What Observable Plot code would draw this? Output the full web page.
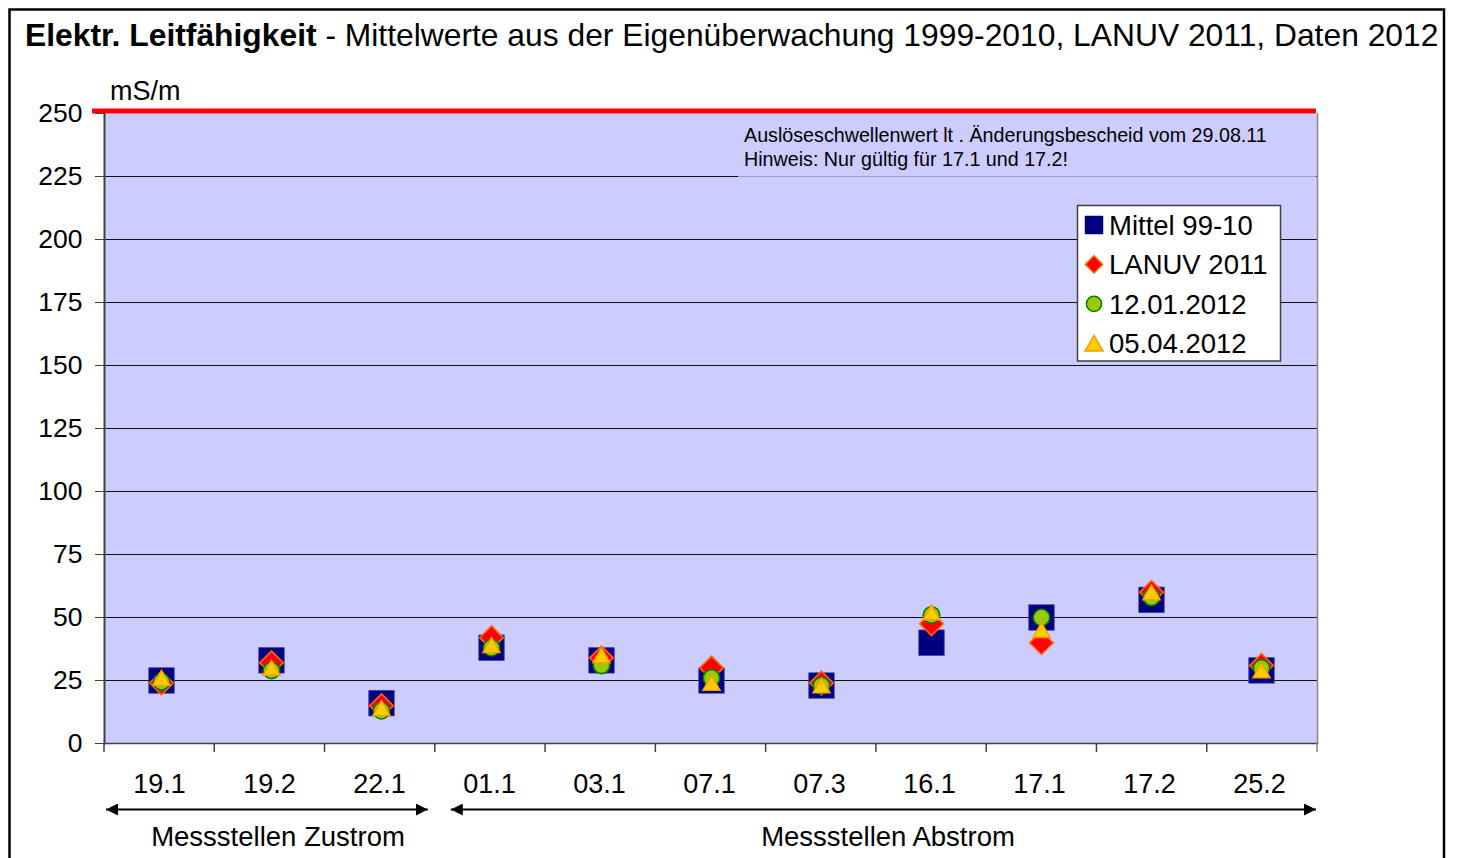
<!DOCTYPE html>
<html><head><meta charset="utf-8">
<script src="https://cdn.jsdelivr.net/npm/d3@7"></script>
<script src="https://cdn.jsdelivr.net/npm/@observablehq/plot@0.6"></script>
<style>
body{margin:0;background:#fff;font-family:"Liberation Sans",Arial,sans-serif}
svg{display:block}
</style>
</head><body><div id="chart"></div>
<script>
// ---- data ----
const stations = ["19.1","19.2","22.1","01.1","03.1","07.1","07.3","16.1","17.1","17.2","25.2"];
const mittel   = [25, 33, 16, 38, 33, 25, 23, 40, 50, 57, 29];
const lanuv    = [24, 32, 15, 42, 34, 30, 24, 47.5, 40, 60, 31];
const jan2012  = [24.5, 29, 13, 38, 31, 26, 23, 51, 50, 58, 30];
const apr2012  = [26, 30, 14, 39, 35, 24, 23, 52, 45, 60, 29];
const yTicks   = [0, 25, 50, 75, 100, 125, 150, 175, 200, 225, 250];
const threshold = 250;
const seriesNames = ["Mittel 99-10", "LANUV 2011", "12.01.2012", "05.04.2012"];
const groups = [
  {label: "Messstellen Zustrom", from: "19.1", to: "22.1"},
  {label: "Messstellen Abstrom", from: "01.1", to: "25.2"}
];
const titleBold = "Elektr. Leitfähigkeit";
const titleRest = " - Mittelwerte aus der Eigenüberwachung 1999-2010, LANUV 2011, Daten 2012";
const unitLabel = "mS/m";
const noteLines = ["Auslöseschwellenwert lt . Änderungsbescheid vom 29.08.11", "Hinweis: Nur gültig für 17.1 und 17.2!"];

const rows = stations.map((s, i) => ({station: s, mittel: mittel[i], lanuv: lanuv[i], jan: jan2012[i], apr: apr2012[i]}));

const FONT = "Liberation Sans, Arial, sans-serif";
const W = 1458, H = 858;
const mL = 104, mR = 141, mT = 113, mB = 115;

const plot = Plot.plot({
  width: W, height: H,
  marginLeft: mL, marginRight: mR, marginTop: mT, marginBottom: mB,
  style: {fontFamily: FONT, background: "white", overflow: "visible", color: "black"},
  x: {type: "band", domain: stations, padding: 0},
  y: {domain: [0, 250]},
  marks: [
    Plot.frame({fill: "#CCCCFF", stroke: null}),
    Plot.ruleY(yTicks.filter(d => d > 0 && d < 250), {stroke: "#111", strokeWidth: 1}),
    Plot.frame({anchor: "right", stroke: "#888", strokeWidth: 1.5}),
    Plot.frame({anchor: "bottom", stroke: "#404040", strokeWidth: 1.5}),
    Plot.frame({anchor: "left", stroke: "#404040", strokeWidth: 2}),
    Plot.ruleY([threshold], {stroke: "#FF0000", strokeWidth: 5, dy: -2.5, insetLeft: -12, insetRight: 1}),
    Plot.axisY(yTicks, {tickSize: 9, tickPadding: 13, fontSize: 26.5, stroke: "#404040", fill: "black", label: null}),
    Plot.axisX({tickSize: 0, tickPadding: 30, fontSize: 27, fill: "black", label: null, dx: -2}),
    Plot.dot(rows, {x: "station", y: "mittel", symbol: "square", r: 14.4, fill: "#000080", stroke: "#4444AA", strokeWidth: 0.8}),
    Plot.dot(rows, {x: "station", y: "lanuv", symbol: "diamond2", r: 10.6, fill: "#FF0000", stroke: "#FF6600", strokeWidth: 1.6}),
    Plot.dot(rows, {x: "station", y: "jan", symbol: "circle", r: 8.2, fill: "#99CC00", stroke: "#008000", strokeWidth: 1.6}),
    Plot.dot(rows, {x: "station", y: "apr", symbol: "triangle", r: 6.4, dy: 2.4, fill: "#FFCC00", stroke: "#FF9900", strokeWidth: 1.4})
  ]
});

document.getElementById("chart").appendChild(plot);

const svg = d3.select(plot);
const sx = plot.scale("x");
const sy = plot.scale("y");
const x0 = sx.range[0], x1 = sx.range[1];
const step = (x1 - x0) / stations.length;
const bandStart = s => x0 + stations.indexOf(s) * step;
const yBottom = sy.range[0], yTop = sy.range[1];

const ann = svg.append("g").attr("text-anchor", "start");

// outer border
ann.append("rect").attr("x", 9.5).attr("y", 9.5).attr("width", 1434.5).attr("height", 900)
  .attr("fill", "none").attr("stroke", "black").attr("stroke-width", 2.5);

// title
const t = ann.append("text").attr("x", 25).attr("y", 46).attr("text-anchor", "start").attr("font-family", FONT).attr("font-size", 31.8).attr("fill", "black");
t.append("tspan").attr("font-weight", "bold").text(titleBold);
t.append("tspan").text(titleRest);

// unit label
ann.append("text").attr("x", 110).attr("y", 100).attr("text-anchor", "start").attr("font-family", FONT).attr("font-size", 27).text(unitLabel);

// x ticks at band boundaries
for (let i = 0; i <= stations.length; i++) {
  const xx = x0 + i * step;
  ann.append("line").attr("x1", xx).attr("x2", xx).attr("y1", yBottom).attr("y2", yBottom + 9)
    .attr("stroke", i === stations.length ? "#888" : "#404040").attr("stroke-width", 1.5);
}

// note box
const noteG = ann.append("g");
noteG.append("rect").attr("x", 738).attr("y", yTop + 1).attr("width", x1 - 738 - 1).attr("height", sy.apply(225) - yTop + 1.5)
  .attr("fill", "#CCCCFF").attr("fill-opacity", 0.75);
noteLines.forEach((l, i) => {
  noteG.append("text").attr("x", 744).attr("y", 142 + i * 24).attr("text-anchor", "start").attr("font-family", FONT).attr("font-size", 19.7).attr("fill", "black").text(l);
});

// legend
const lg = ann.append("g");
lg.append("rect").attr("x", 1077.5).attr("y", 205.5).attr("width", 203).attr("height", 155.5)
  .attr("fill", "white").attr("stroke", "#404040").attr("stroke-width", 1.5);
const sym = [
  {type: d3.symbolSquare, size: 18 * 18, fill: "#000080", stroke: "#000080", sw: 0.5, dy: 0},
  {type: d3.symbolDiamond2, size: Math.pow(8.6 / 0.62625, 2), fill: "#FF0000", stroke: "#FF6600", sw: 1.5, dy: 0},
  {type: d3.symbolCircle, size: Math.PI * 7.6 * 7.6, fill: "#99CC00", stroke: "#008000", sw: 1.5, dy: 0},
  {type: d3.symbolTriangle, size: 140, fill: "#FFCC00", stroke: "#FF9900", sw: 1.4, dy: 2.6}
];
seriesNames.forEach((name, i) => {
  const cy = 225 + i * 39.4;
  const s = sym[i];
  lg.append("path").attr("d", d3.symbol(s.type, s.size)()).attr("transform", `translate(1094,${cy + s.dy})`)
    .attr("fill", s.fill).attr("stroke", s.stroke).attr("stroke-width", s.sw);
  lg.append("text").attr("x", 1109).attr("y", cy + 10).attr("text-anchor", "start").attr("font-family", FONT).attr("font-size", 27.5).attr("fill", "black").text(name);
});

// group arrows & labels
const defs = svg.append("defs");
defs.append("marker").attr("id", "ah").attr("viewBox", "0 0 12 12").attr("refX", 12).attr("refY", 6)
  .attr("markerWidth", 12).attr("markerHeight", 12).attr("markerUnits", "userSpaceOnUse").attr("orient", "auto-start-reverse")
  .append("path").attr("d", "M0,0 L12,6 L0,12 Z").attr("fill", "black");
const arrowY = 809.5;
const gx = [
  {a: bandStart("19.1") + 2, b: bandStart("01.1") - 7, cx: 278},
  {a: bandStart("01.1") + 16, b: x1 - 1, cx: 888}
];
groups.forEach((g, i) => {
  ann.append("line").attr("x1", gx[i].a).attr("x2", gx[i].b).attr("y1", arrowY).attr("y2", arrowY)
    .attr("stroke", "black").attr("stroke-width", 2)
    .attr("marker-start", "url(#ah)").attr("marker-end", "url(#ah)");
  ann.append("text").attr("x", gx[i].cx).attr("y", 846).attr("text-anchor", "middle")
    .attr("font-family", FONT).attr("font-size", 27.5).attr("fill", "black").text(g.label);
});
</script>
</body></html>
